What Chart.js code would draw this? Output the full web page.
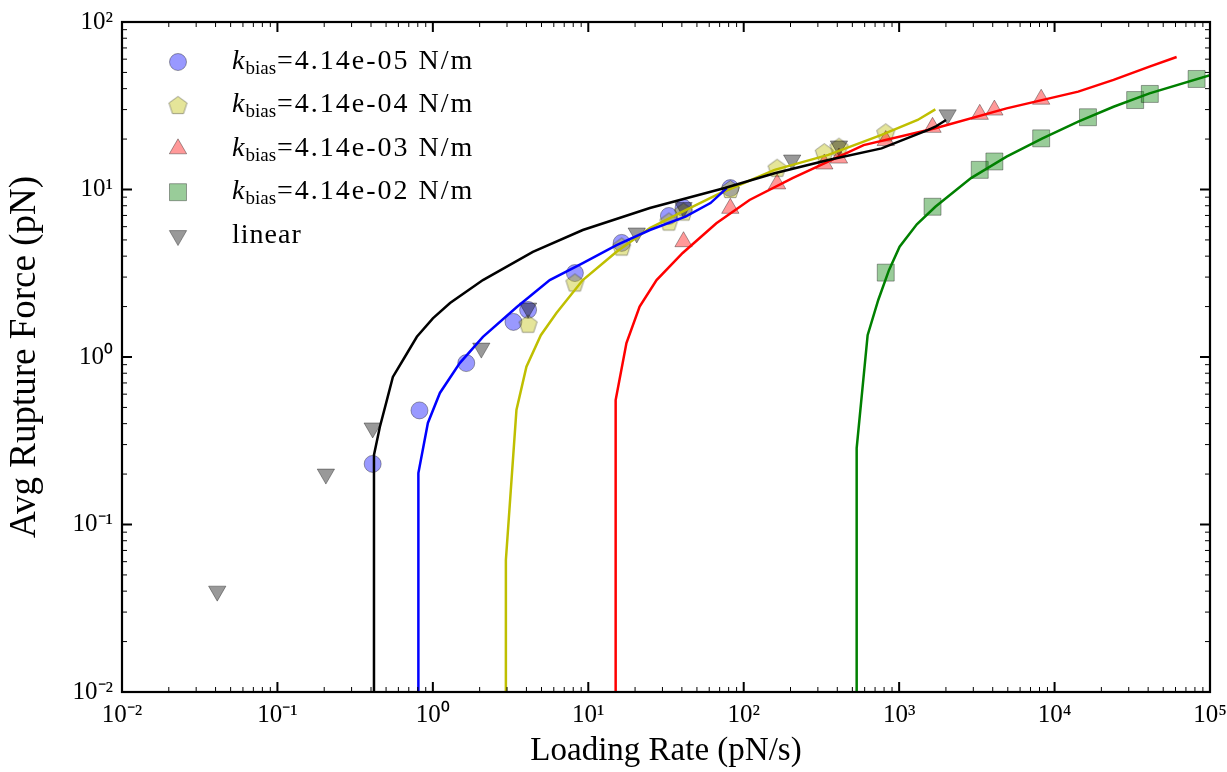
<!DOCTYPE html>
<html>
<head>
<meta charset="utf-8">
<script src="https://cdn.jsdelivr.net/npm/chart.js@4.4.0/dist/chart.umd.min.js"></script>
<style>
    html, body { margin: 0; padding: 0; background: #fff; }
</style>
</head>
<body>
<canvas id="myChart" width="1227" height="772"></canvas>
<script>
// Datos (escala log-log)
var xTicks = [1e-2, 1e-1, 1e0, 1e1, 1e2, 1e3, 1e4, 1e5];
var yTicks = [1e-2, 1e-1, 1e0, 1e1, 1e2];

var biasLabels = ["4.14e-05", "4.14e-04", "4.14e-03", "4.14e-02"];

// puntos medidos
var rateA = [0.41, 0.82, 1.64, 3.3, 4.1, 8.2, 16.4, 33, 41, 82];
var forceA = [0.23, 0.48, 0.92, 1.62, 1.91, 3.17, 4.8, 6.95, 7.76, 10.2];
var rateB = [4.1, 8.2, 16.4, 33, 41, 82, 164, 330, 410, 820];
var forceB = [1.57, 2.77, 4.54, 6.4, 7.34, 10.0, 13.4, 16.6, 17.9, 21.8];
var rateC = [41, 82, 164, 330, 410, 820, 1640, 3300, 4100, 8200];
var forceC = [4.88, 7.72, 10.8, 14.2, 15.4, 19.6, 23.5, 28.1, 29.8, 34.6];
var rateD = [820, 1640, 3300, 4100, 8200, 16400, 33000, 41000, 82000];
var forceD = [3.19, 7.89, 13.1, 14.7, 20.2, 27.0, 34.2, 37.2, 45.7];
var rateLin = [0.041, 0.205, 0.41, 2.05, 4.1, 20.5, 41, 205, 410, 2050];
var forceLin = [0.040, 0.20, 0.377, 1.13, 1.96, 5.5, 7.8, 15.0, 18.2, 27.9];

// curvas teoricas
var curveLinX = [0.418, 0.418, 0.456, 0.506, 0.553, 0.66, 0.789, 1.0, 1.29, 2.1, 4.4, 9.22, 24.9, 75.5, 158, 350, 771, 1540, 1710, 2004];
var curveLinY = [0.01, 0.26, 0.382, 0.553, 0.76, 1.0, 1.32, 1.7, 2.1, 2.88, 4.24, 5.73, 7.76, 10.2, 12.5, 15.0, 17.6, 22.7, 23.7, 26.0];
var curveAX = [0.807, 0.807, 0.929, 1.11, 1.49, 2.1, 3.47, 5.65, 9.22, 15.2, 24.9, 42.2, 61.1, 77.8];
var curveAY = [0.01, 0.203, 0.404, 0.61, 0.92, 1.32, 1.99, 2.88, 3.64, 4.66, 5.73, 6.88, 8.3, 10.2];
var curveBX = [2.95, 2.95, 3.45, 4.0, 4.95, 6.24, 9.22, 15.2, 24.9, 40.5, 71.1, 158, 350, 771, 1315, 1710];
var curveBY = [0.01, 0.0614, 0.483, 0.875, 1.35, 1.83, 2.88, 4.25, 5.89, 7.37, 9.53, 13.1, 16.1, 21.2, 26.0, 30.1];
var curveCX = [15.0, 15.0, 17.6, 21.4, 27.5, 40.5, 66.7, 109, 206, 591, 1710, 4910, 14190, 23950, 40800, 61000];
var curveCY = [0.01, 0.553, 1.21, 2.0, 2.88, 4.18, 6.28, 8.66, 11.7, 18.4, 23.2, 30.5, 38.4, 45.1, 54.1, 61.8];
var curveDX = [533, 533, 627, 734, 860, 1007, 1300, 1710, 2900, 4910, 8360, 14190, 23950, 40800, 100000];
var curveDY = [0.01, 0.286, 1.35, 2.19, 3.3, 4.56, 6.2, 7.89, 11.7, 15.7, 20.2, 25.4, 31.2, 37.5, 48.2];

var FONT = "'Liberation Serif', 'Times New Roman', serif";

function toPoints(xs, ys) {
    return xs.map(function (x, i) { return { x: x, y: ys[i] }; });
}

// pentagono para el marcador amarillo
function makePentagon(r, fill, stroke) {
    var c = document.createElement("canvas");
    var s = Math.ceil(r * 2 + 4);
    c.width = s; c.height = s;
    var g = c.getContext("2d");
    g.beginPath();
    for (var i = 0; i < 5; i++) {
        var a = -Math.PI / 2 + i * 2 * Math.PI / 5;
        var px = s / 2 + r * Math.cos(a), py = s / 2 + 0.5 + r * Math.sin(a);
        if (i === 0) g.moveTo(px, py); else g.lineTo(px, py);
    }
    g.closePath();
    g.fillStyle = fill; g.fill();
    g.lineWidth = 1; g.strokeStyle = stroke; g.stroke();
    return c;
}
var pentagon = makePentagon(9.5, "rgba(191,191,0,0.4)", "rgba(0,0,0,0.35)");

var sup = { "-": "\u207B", "0": "\u2070", "1": "\u00B9", "2": "\u00B2", "3": "\u00B3", "4": "\u2074", "5": "\u2075" };
function powLabel(v) {
    var e = String(Math.round(Math.log10(v)));
    return "10" + e.split("").map(function (c) { return sup[c]; }).join("");
}

function lineSet(xs, ys, color, ord) {
    return {
        data: toPoints(xs, ys), showLine: true, borderColor: color, borderWidth: 2.5,
        pointRadius: 0, fill: false, tension: 0, order: ord
    };
}
function markerSet(xs, ys, style, radius, fill, ord, rot) {
    return {
        data: toPoints(xs, ys), showLine: false, pointStyle: style, pointRadius: radius,
        pointRotation: rot || 0, backgroundColor: fill, borderColor: "rgba(0,0,0,0.35)",
        pointBorderWidth: 1, order: ord
    };
}

var markers = [
    markerSet(rateA, forceA, "circle", 8.5, "rgba(0,0,255,0.4)", 6),
    markerSet(rateB, forceB, pentagon, 9.5, "rgba(191,191,0,0.4)", 5),
    markerSet(rateC, forceC, "triangle", 10, "rgba(255,0,0,0.4)", 4),
    markerSet(rateD, forceD, "rect", 12, "rgba(0,128,0,0.4)", 3),
    markerSet(rateLin, forceLin, "triangle", 10, "rgba(0,0,0,0.4)", 2, 180)
];

// marco, ticks hacia dentro y leyenda
var framePlugin = {
    id: "frame",
    afterDraw: function (chart) {
        var ctx = chart.ctx, a = chart.chartArea;
        var xs = chart.scales.x, ys = chart.scales.y;
        ctx.save();
        ctx.strokeStyle = "#000";
        function ticksFor(scale, lo, hi, fn) {
            for (var e = lo; e <= hi; e++) {
                for (var m = 1; m <= 9; m++) {
                    var v = m * Math.pow(10, e);
                    if (v < scale.min * 0.999 || v > scale.max * 1.001) continue;
                    fn(scale.getPixelForValue(v), m === 1);
                }
            }
        }
        ticksFor(xs, -2, 5, function (p, major) {
            var len = major ? 10 : 5;
            ctx.lineWidth = major ? 2 : 1;
            ctx.beginPath();
            ctx.moveTo(p, a.bottom); ctx.lineTo(p, a.bottom - len);
            ctx.moveTo(p, a.top); ctx.lineTo(p, a.top + len);
            ctx.stroke();
        });
        ticksFor(ys, -2, 2, function (p, major) {
            var len = major ? 10 : 5;
            ctx.lineWidth = major ? 2 : 1;
            ctx.beginPath();
            ctx.moveTo(a.left, p); ctx.lineTo(a.left + len, p);
            ctx.moveTo(a.right, p); ctx.lineTo(a.right - len, p);
            ctx.stroke();
        });
        ctx.lineWidth = 2.2;
        ctx.strokeRect(a.left, a.top, a.right - a.left, a.bottom - a.top);

        // leyenda
        var rowY = 62, step = 43.4, mx = 178, tx = 232;
        for (var i = 0; i < markers.length; i++) {
            var ds = markers[i], y = rowY + i * step;
            ctx.fillStyle = ds.backgroundColor;
            ctx.strokeStyle = ds.borderColor;
            ctx.lineWidth = 1;
            Chart.helpers.drawPoint(ctx, {
                pointStyle: ds.pointStyle, rotation: ds.pointRotation,
                radius: ds.pointRadius, borderWidth: 1
            }, mx, y);
            ctx.fillStyle = "#000";
            ctx.textBaseline = "alphabetic";
            ctx.textAlign = "left";
            var base = y + 7, x = tx;
            if (i < biasLabels.length) {
                ctx.font = "italic 28px " + FONT;
                ctx.fillText("k", x, base);
                x += ctx.measureText("k").width + 1;
                ctx.font = "19px " + FONT;
                ctx.fillText("bias", x, base + 5);
                x += ctx.measureText("bias").width + 1;
                ctx.font = "28px " + FONT;
                ctx.letterSpacing = "2px";
                ctx.fillText("=" + biasLabels[i] + " N/m", x, base);
            } else {
                ctx.font = "28px " + FONT;
                ctx.letterSpacing = "1px";
                ctx.fillText("linear", x, base);
            }
            ctx.letterSpacing = "0px";
        }
        ctx.restore();
    }
};

var ctx = document.getElementById("myChart").getContext("2d");
var chart = new Chart(ctx, {
    type: "scatter",
    data: {
        datasets: [
            lineSet(curveLinX, curveLinY, "#000000", 0),
            lineSet(curveAX, curveAY, "#0000ff", 0),
            lineSet(curveBX, curveBY, "#bfbf00", 0),
            lineSet(curveCX, curveCY, "#ff0000", 0),
            lineSet(curveDX, curveDY, "#008000", 0)
        ].concat(markers)
    },
    options: {
        responsive: false,
        animation: false,
        events: [],
        layout: { padding: { top: 22, right: 17, left: 0, bottom: 0 } },
        plugins: { legend: { display: false }, tooltip: { enabled: false } },
        scales: {
            x: {
                type: "logarithmic", position: "bottom", min: 1e-2, max: 1e5,
                afterBuildTicks: function (s) { s.ticks = xTicks.map(function (v) { return { value: v }; }); },
                afterFit: function (s) { s.height = 80; s.paddingLeft = 0; s.paddingRight = 0; },
                grid: { display: false, drawTicks: false },
                border: { display: false },
                ticks: {
                    callback: powLabel, color: "#000", padding: 8, maxRotation: 0, autoSkip: false,
                    font: { family: FONT, size: 25 }
                },
                title: {
                    display: true, text: "Loading Rate (pN/s)", color: "#000",
                    font: { family: FONT, size: 33 }, padding: { top: 0, bottom: 1 }
                }
            },
            y: {
                type: "logarithmic", position: "left", min: 1e-2, max: 1e2,
                afterBuildTicks: function (s) { s.ticks = yTicks.map(function (v) { return { value: v }; }); },
                afterFit: function (s) { s.width = 122; s.paddingTop = 0; s.paddingBottom = 0; },
                grid: { display: false, drawTicks: false },
                border: { display: false },
                ticks: {
                    callback: powLabel, color: "#000", padding: 9, autoSkip: false,
                    font: { family: FONT, size: 25 }
                },
                title: {
                    display: true, text: "Avg Rupture Force (pN)", color: "#000",
                    font: { family: FONT, size: 37 }, padding: { top: 3, bottom: 0 }
                }
            }
        }
    },
    plugins: [framePlugin]
});
</script>
</body>
</html>
